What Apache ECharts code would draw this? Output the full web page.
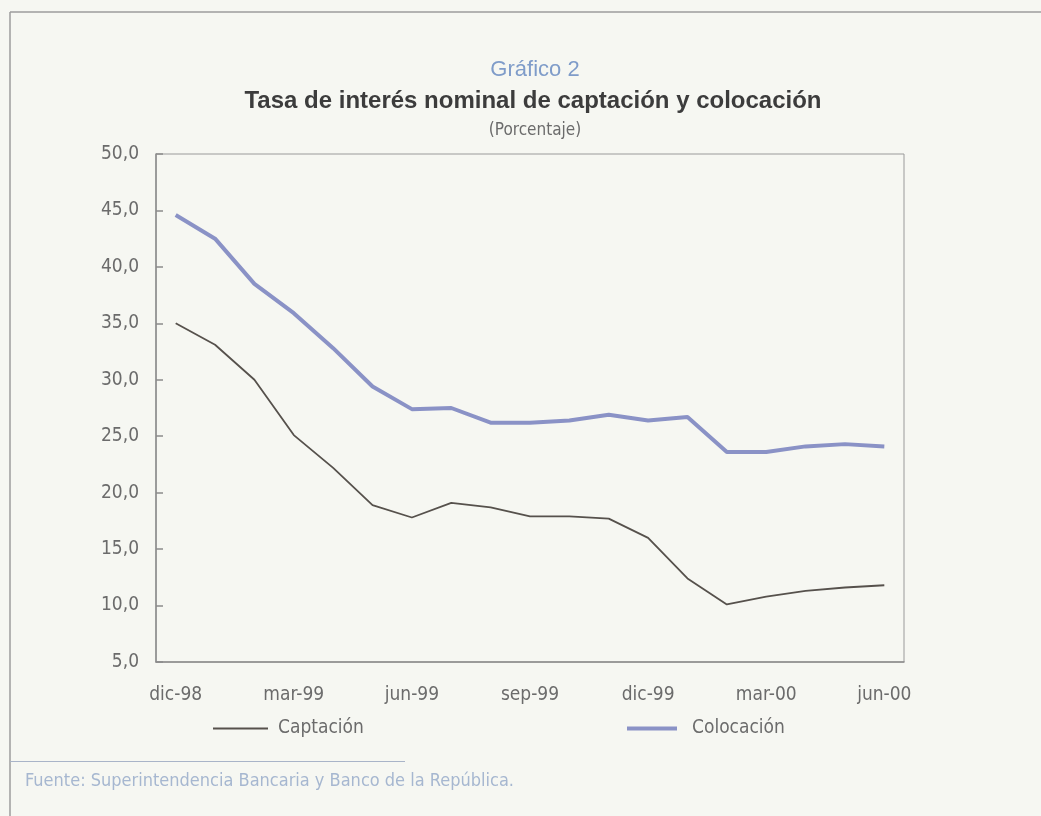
<!DOCTYPE html>
<html>
<head>
<meta charset="utf-8">
<title>Tasa de interés nominal de captación y colocación</title>
<script src="https://cdn.jsdelivr.net/npm/echarts@6/dist/echarts.min.js"></script>
<style>
  html, body { margin: 0; padding: 0; background: #f6f7f2; }
  #chart { width: 1041px; height: 816px; }
</style>
</head>
<body>
<div id="chart"></div>
<script>
// Monthly periods, Dec-1998 to Jun-2000
const meses = ['dic-98', 'ene-99', 'feb-99', 'mar-99', 'abr-99', 'may-99', 'jun-99',
  'jul-99', 'ago-99', 'sep-99', 'oct-99', 'nov-99', 'dic-99', 'ene-00', 'feb-00',
  'mar-00', 'abr-00', 'may-00', 'jun-00'];

// Nominal deposit rate (%)
const captacion = [35.0, 33.1, 30.0, 25.1, 22.2, 18.9, 17.8, 19.1, 18.7, 17.9,
  17.9, 17.7, 16.0, 12.4, 10.1, 10.8, 11.3, 11.6, 11.8];

// Nominal lending rate (%)
const colocacion = [44.6, 42.5, 38.5, 35.9, 32.8, 29.4, 27.4, 27.5, 26.2, 26.2,
  26.4, 26.9, 26.4, 26.7, 23.6, 23.6, 24.1, 24.3, 24.1];

const FONT = "'Liberation Sans Narrow', 'DejaVu Sans Condensed', 'Roboto Condensed', 'Liberation Sans', sans-serif";
const FONT_TITLE = "'Liberation Sans', Arial, sans-serif";
const GRAY = '#6b6b6b';
const AXIS = '#8c8c8c';

const chart = echarts.init(document.getElementById('chart'), null, { renderer: 'canvas' });

chart.setOption({
  backgroundColor: '#f6f7f2',
  animation: false,
  title: [
    {
      text: 'Gráfico 2', left: 530, top: 54, textAlign: 'center',
      textStyle: { fontFamily: FONT_TITLE, fontSize: 22, fontWeight: 'normal', color: '#7f9cc9' }
    },
    {
      text: 'Tasa de interés nominal de captación y colocación', left: 528, top: 84, textAlign: 'center',
      textStyle: { fontFamily: FONT_TITLE, fontSize: 24, fontWeight: 'bold', color: '#3c3c3c' }
    },
    {
      text: '(Porcentaje)', left: 530, top: 117, textAlign: 'center',
      textStyle: { fontFamily: FONT, fontSize: 17, fontWeight: 'normal', color: GRAY }
    }
  ],
  legend: [
    {
      data: [{ name: 'Captación', icon: 'rect' }],
      left: 213, top: 719, padding: 0, itemWidth: 55, itemHeight: 2, itemGap: 0,
      textStyle: { fontFamily: FONT, fontSize: 19, color: GRAY, padding: [0, 0, 0, 5] }
    },
    {
      data: [{ name: 'Colocación', icon: 'rect' }],
      left: 627, top: 719, padding: 0, itemWidth: 50, itemHeight: 4, itemGap: 0,
      textStyle: { fontFamily: FONT, fontSize: 19, color: GRAY, padding: [0, 0, 0, 10] }
    }
  ],
  grid: {
    left: 156, right: 137, top: 154, bottom: 154,
    show: true, borderColor: '#9a9a9a', borderWidth: 1, backgroundColor: 'transparent'
  },
  xAxis: {
    type: 'category',
    data: meses,
    boundaryGap: true,
    axisLine: { lineStyle: { color: AXIS, width: 1.5 } },
    axisTick: { inside: true, length: 7, interval: 2, lineStyle: { color: AXIS, width: 1.5 } },
    axisLabel: { interval: 2, margin: 24, fontFamily: FONT, fontSize: 19, color: GRAY },
    splitLine: { show: false }
  },
  yAxis: {
    type: 'value',
    min: 5, max: 50, interval: 5,
    axisLine: { show: true, lineStyle: { color: AXIS, width: 1.5 } },
    axisTick: { show: true, inside: true, length: 7, lineStyle: { color: AXIS, width: 1.5 } },
    axisLabel: {
      margin: 17, fontFamily: FONT, fontSize: 19, color: GRAY,
      formatter: v => v.toFixed(1).replace('.', ',')
    },
    splitLine: { show: false }
  },
  series: [
    {
      name: 'Captación', type: 'line', data: captacion,
      symbol: 'none', smooth: false,
      lineStyle: { color: '#56514c', width: 1.8 },
      itemStyle: { color: '#56514c' }
    },
    {
      name: 'Colocación', type: 'line', data: colocacion,
      symbol: 'none', smooth: false,
      lineStyle: { color: '#8a92c6', width: 4 },
      itemStyle: { color: '#8a92c6' }
    }
  ],
  graphic: [
    // outer frame (top and left edges)
    { type: 'line', shape: { x1: 10, y1: 12, x2: 1041, y2: 12 }, style: { stroke: '#9c9c9c', lineWidth: 1.5 } },
    { type: 'line', shape: { x1: 10, y1: 12, x2: 10, y2: 816 }, style: { stroke: '#9c9c9c', lineWidth: 1.5 } },
    // source rule
    { type: 'line', shape: { x1: 10, y1: 761.5, x2: 405, y2: 761.5 }, style: { stroke: '#a9b4c8', lineWidth: 1.2 } },
    {
      type: 'text', left: 25, top: 772,
      style: {
        text: 'Fuente: Superintendencia Bancaria y Banco de la República.',
        font: "18px 'Liberation Sans Narrow', 'DejaVu Sans Condensed', 'Liberation Sans', sans-serif",
        fill: '#a6b7d0'
      }
    }
  ]
});
</script>
</body>
</html>
